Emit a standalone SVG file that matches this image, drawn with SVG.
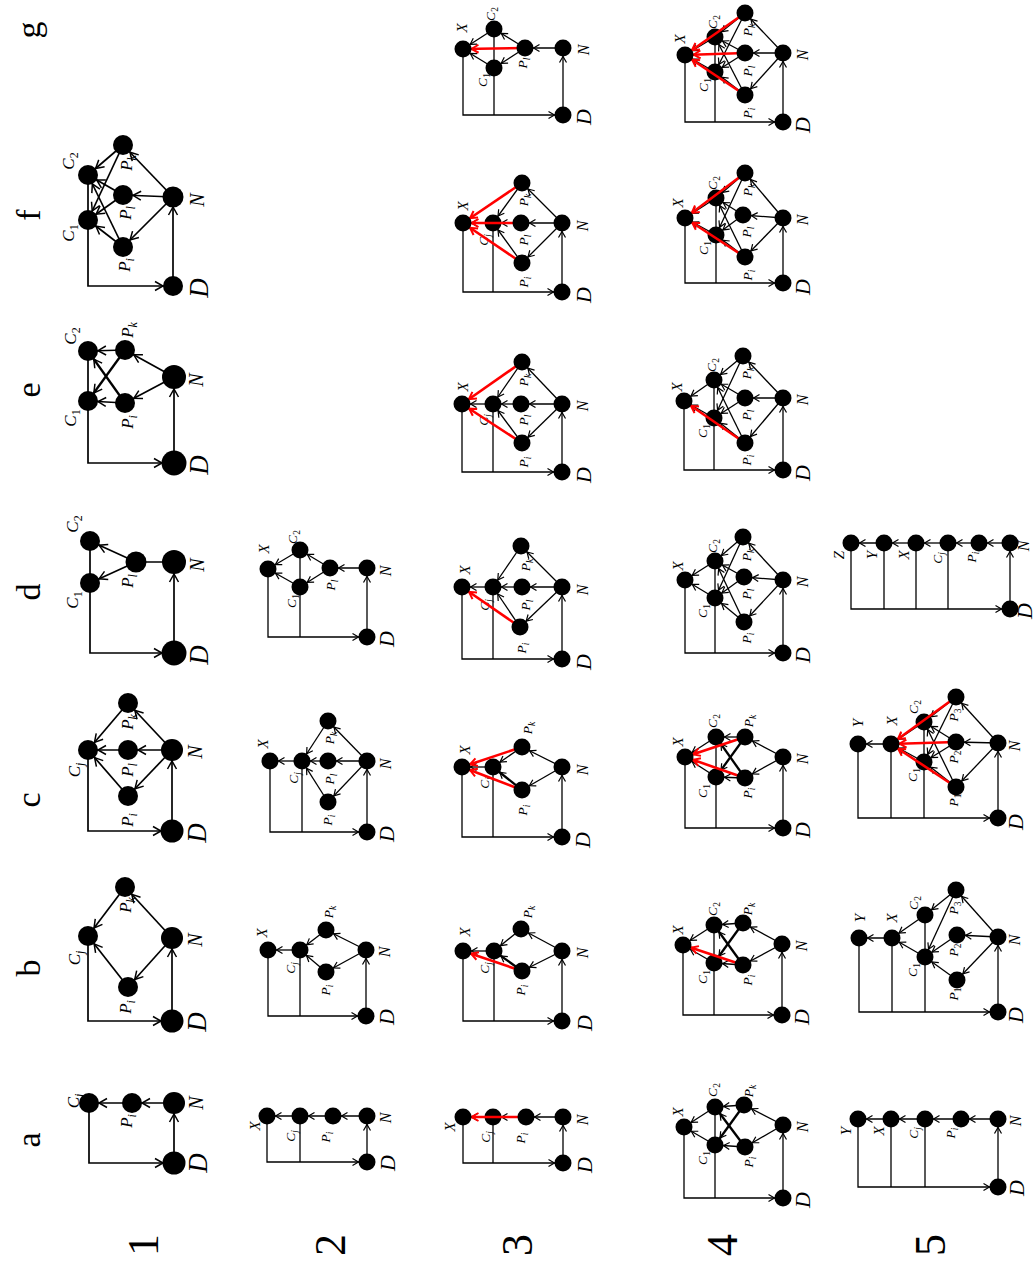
<svg xmlns="http://www.w3.org/2000/svg" width="1036" height="1262" viewBox="0 0 1036 1262">
<style>
.e{fill:none;stroke:#000;stroke-width:1.3}
.e1{fill:none;stroke:#000;stroke-width:1.7}
.th{stroke-width:2.3}
.r{fill:none;stroke:#f00;stroke-width:2.6;marker-end:url(#mr)}
.a8{marker-end:url(#m8)}
.a10{marker-end:url(#m10)}
.a11{marker-end:url(#m11)}
.a12{marker-end:url(#m12)}
circle{fill:#000}
text{font-family:"Liberation Serif","Times New Roman",serif;font-style:italic;text-anchor:middle;fill:#000}
.t1{font-size:17px}.n1{font-size:20px}.d1{font-size:27px}
.tx{font-size:15px}.tc{font-size:13.5px}.tn{font-size:16px}.td{font-size:22px}
.s{font-size:70%}.u{font-size:70%;font-style:normal}
.big{font-style:normal;font-size:34px}.dig{font-style:normal;font-size:44px}
</style>
<defs>
<marker id="m8" markerUnits="userSpaceOnUse" orient="auto" refX="8.5" refY="0" overflow="visible"><path d="M-6,-3.5L0,0L-6,3.5" fill="none" stroke="#000" stroke-width="1.2"/></marker>
<marker id="m10" markerUnits="userSpaceOnUse" orient="auto" refX="10" refY="0" overflow="visible"><path d="M-8,-4.5L0,0L-8,4.5" fill="none" stroke="#000" stroke-width="1.5"/></marker>
<marker id="m11" markerUnits="userSpaceOnUse" orient="auto" refX="11" refY="0" overflow="visible"><path d="M-8,-4.5L0,0L-8,4.5" fill="none" stroke="#000" stroke-width="1.5"/></marker>
<marker id="m12" markerUnits="userSpaceOnUse" orient="auto" refX="12" refY="0" overflow="visible"><path d="M-8,-4.5L0,0L-8,4.5" fill="none" stroke="#000" stroke-width="1.5"/></marker>
<marker id="mr" markerUnits="userSpaceOnUse" orient="auto" refX="8.5" refY="0" overflow="visible"><path d="M-7,-4L0,0L-7,4" fill="none" stroke="#f00" stroke-width="2"/></marker>
</defs>

<g id="connectors">
<!-- 1a -->
<line x1="174" y1="1163" x2="174" y2="1103" class="e1 a11"/>
<line x1="174" y1="1103" x2="132" y2="1103" class="e1 a10"/>
<line x1="132" y1="1103" x2="89" y2="1103" class="e1 a10"/>
<path d="M89,1103V1163H174" class="e1 a11"/>
<!-- 1b -->
<line x1="172" y1="1021" x2="172" y2="938" class="e1 a11"/>
<line x1="172" y1="938" x2="128" y2="987" class="e1 a10"/>
<line x1="172" y1="938" x2="125" y2="887" class="e1 a10"/>
<line x1="128" y1="987" x2="88" y2="936" class="e1 a10"/>
<line x1="125" y1="887" x2="88" y2="936" class="e1 a10"/>
<path d="M88,936V1021H172" class="e1 a11"/>
<!-- 1c -->
<line x1="172" y1="831" x2="172" y2="750" class="e1 a11"/>
<line x1="172" y1="750" x2="128" y2="796" class="e1 a10"/>
<line x1="172" y1="750" x2="128" y2="750" class="e1 a10"/>
<line x1="172" y1="750" x2="128" y2="703" class="e1 a10"/>
<line x1="128" y1="796" x2="88" y2="750" class="e1 a10"/>
<line x1="128" y1="750" x2="88" y2="750" class="e1 a10"/>
<line x1="128" y1="703" x2="88" y2="750" class="e1 a10"/>
<path d="M88,750V831H172" class="e1 a11"/>
<!-- 1d -->
<line x1="174" y1="653" x2="174" y2="562" class="e1 a12"/>
<line x1="136" y1="562" x2="174" y2="562" class="e1"/>
<line x1="136" y1="562" x2="90" y2="583" class="e1 a10"/>
<line x1="136" y1="562" x2="90" y2="541" class="e1 a10"/>
<path d="M90,541V653H174" class="e1 a12"/>
<!-- 1e -->
<line x1="174" y1="463" x2="174" y2="377" class="e1 a12"/>
<line x1="174" y1="377" x2="125" y2="403" class="e1 a10"/>
<line x1="174" y1="377" x2="125" y2="350" class="e1 a10"/>
<line x1="125" y1="403" x2="88" y2="401" class="e1 a10"/>
<line x1="125" y1="350" x2="88" y2="351" class="e1 a10"/>
<line x1="125" y1="403" x2="88" y2="351" class="e1 th a10"/>
<line x1="125" y1="350" x2="88" y2="401" class="e1 th a10"/>
<path d="M88,351V463H174" class="e1 a12"/>
<!-- 1f -->
<line x1="173" y1="286" x2="173" y2="197" class="e1 a10"/>
<line x1="173" y1="197" x2="123" y2="247" class="e1 a10"/>
<line x1="173" y1="197" x2="123" y2="195" class="e1 a10"/>
<line x1="173" y1="197" x2="123" y2="145" class="e1 a10"/>
<line x1="123" y1="247" x2="88" y2="220" class="e1 a10"/>
<line x1="123" y1="247" x2="88" y2="175" class="e1 a10"/>
<line x1="123" y1="195" x2="88" y2="220" class="e1 a10"/>
<line x1="123" y1="195" x2="88" y2="175" class="e1 a10"/>
<line x1="123" y1="145" x2="88" y2="220" class="e1 a10"/>
<line x1="123" y1="145" x2="88" y2="175" class="e1 a10"/>
<path d="M88,175V286H173" class="e1 a10"/>
<!-- 2a -->
<line x1="367" y1="1162" x2="367" y2="1116" class="e a8"/>
<line x1="367" y1="1116" x2="333" y2="1116" class="e a8"/>
<line x1="333" y1="1116" x2="300" y2="1116" class="e a8"/>
<line x1="300" y1="1116" x2="267" y2="1116" class="e a8"/>
<path d="M267,1116V1162H367" class="e a8"/>
<path d="M300,1116V1162" class="e"/>
<!-- 2b -->
<line x1="366" y1="1016" x2="366" y2="950" class="e a8"/>
<line x1="366" y1="950" x2="326" y2="972" class="e a8"/>
<line x1="366" y1="950" x2="326" y2="930" class="e a8"/>
<line x1="326" y1="972" x2="300" y2="950" class="e a8"/>
<line x1="326" y1="930" x2="300" y2="950" class="e a8"/>
<line x1="300" y1="950" x2="268" y2="950" class="e a8"/>
<path d="M268,950V1016H366" class="e a8"/>
<path d="M300,950V1016" class="e"/>
<!-- 2c -->
<line x1="367" y1="832" x2="367" y2="761" class="e a8"/>
<line x1="367" y1="761" x2="328" y2="802" class="e a8"/>
<line x1="367" y1="761" x2="328" y2="761" class="e a8"/>
<line x1="367" y1="761" x2="328" y2="721" class="e a8"/>
<line x1="328" y1="802" x2="302" y2="761" class="e a8"/>
<line x1="328" y1="761" x2="302" y2="761" class="e a8"/>
<line x1="328" y1="721" x2="302" y2="761" class="e a8"/>
<line x1="302" y1="761" x2="270" y2="761" class="e a8"/>
<path d="M270,761V832H367" class="e a8"/>
<path d="M302,761V832" class="e"/>
<!-- 2d -->
<line x1="367" y1="637" x2="367" y2="568" class="e a8"/>
<line x1="367" y1="568" x2="330" y2="568" class="e a8"/>
<line x1="330" y1="568" x2="300" y2="587" class="e a8"/>
<line x1="330" y1="568" x2="300" y2="550" class="e a8"/>
<line x1="300" y1="587" x2="268" y2="569" class="e a8"/>
<line x1="300" y1="550" x2="268" y2="569" class="e a8"/>
<path d="M268,569V637H367" class="e a8"/>
<path d="M300,550V637" class="e"/>
<!-- 3a -->
<line x1="563" y1="1163" x2="563" y2="1117" class="e a8"/>
<line x1="563" y1="1117" x2="526" y2="1117" class="e a8"/>
<line x1="526" y1="1117" x2="493" y2="1117" class="e a8"/>
<line x1="493" y1="1117" x2="463" y2="1117" class="e a8"/>
<path d="M463,1117V1163H563" class="e a8"/>
<path d="M493,1117V1163" class="e"/>
<!-- 3b -->
<line x1="562" y1="1021" x2="562" y2="951" class="e a8"/>
<line x1="562" y1="951" x2="522" y2="971" class="e a8"/>
<line x1="562" y1="951" x2="521" y2="929" class="e a8"/>
<line x1="522" y1="971" x2="494" y2="951" class="e th a8"/>
<line x1="521" y1="929" x2="494" y2="951" class="e a8"/>
<line x1="494" y1="951" x2="463" y2="951" class="e a8"/>
<path d="M463,951V1021H562" class="e a8"/>
<path d="M494,951V1021" class="e"/>
<!-- 3c -->
<line x1="562" y1="837" x2="562" y2="767" class="e a8"/>
<line x1="562" y1="767" x2="522" y2="790" class="e a8"/>
<line x1="562" y1="767" x2="522" y2="747" class="e a8"/>
<line x1="522" y1="790" x2="493" y2="767" class="e th a8"/>
<line x1="522" y1="747" x2="493" y2="767" class="e a8"/>
<line x1="493" y1="767" x2="462" y2="767" class="e a8"/>
<path d="M462,767V837H562" class="e a8"/>
<path d="M493,767V837" class="e"/>
<!-- 3d -->
<line x1="562" y1="659" x2="562" y2="587" class="e a8"/>
<line x1="562" y1="587" x2="520" y2="627" class="e a8"/>
<line x1="562" y1="587" x2="522" y2="587" class="e a8"/>
<line x1="562" y1="587" x2="521" y2="546" class="e a8"/>
<line x1="520" y1="627" x2="493" y2="587" class="e a8"/>
<line x1="522" y1="587" x2="493" y2="587" class="e a8"/>
<line x1="521" y1="546" x2="493" y2="587" class="e a8"/>
<line x1="493" y1="587" x2="462" y2="587" class="e a8"/>
<path d="M462,587V659H562" class="e a8"/>
<path d="M493,587V659" class="e"/>
<!-- 3e -->
<line x1="562" y1="472" x2="562" y2="404" class="e a8"/>
<line x1="562" y1="404" x2="522" y2="443" class="e a8"/>
<line x1="562" y1="404" x2="521" y2="404" class="e a8"/>
<line x1="562" y1="404" x2="522" y2="362" class="e a8"/>
<line x1="522" y1="443" x2="493" y2="404" class="e a8"/>
<line x1="521" y1="404" x2="493" y2="404" class="e a8"/>
<line x1="522" y1="362" x2="493" y2="404" class="e a8"/>
<line x1="493" y1="404" x2="462" y2="404" class="e a8"/>
<path d="M462,404V472H562" class="e a8"/>
<path d="M493,404V472" class="e"/>
<!-- 3f -->
<line x1="562" y1="292" x2="562" y2="223" class="e a8"/>
<line x1="562" y1="223" x2="522" y2="263" class="e a8"/>
<line x1="562" y1="223" x2="521" y2="223" class="e a8"/>
<line x1="562" y1="223" x2="522" y2="183" class="e a8"/>
<line x1="522" y1="263" x2="493" y2="223" class="e a8"/>
<line x1="521" y1="223" x2="493" y2="223" class="e a8"/>
<line x1="522" y1="183" x2="493" y2="223" class="e a8"/>
<line x1="493" y1="223" x2="463" y2="223" class="e a8"/>
<path d="M463,223V292H562" class="e a8"/>
<path d="M493,223V292" class="e"/>
<!-- 3g -->
<line x1="563" y1="115" x2="563" y2="48" class="e a8"/>
<line x1="563" y1="48" x2="525" y2="48" class="e a8"/>
<line x1="525" y1="48" x2="494" y2="68" class="e a8"/>
<line x1="525" y1="48" x2="494" y2="29" class="e a8"/>
<line x1="494" y1="68" x2="463" y2="49" class="e a8"/>
<line x1="494" y1="29" x2="463" y2="49" class="e a8"/>
<path d="M463,49V115H563" class="e a8"/>
<path d="M494,29V115" class="e"/>
<!-- 4a -->
<line x1="783" y1="1198" x2="783" y2="1125" class="e a8"/>
<line x1="783" y1="1125" x2="745" y2="1147" class="e a8"/>
<line x1="783" y1="1125" x2="744" y2="1105" class="e a8"/>
<line x1="745" y1="1147" x2="715" y2="1145" class="e a8"/>
<line x1="744" y1="1105" x2="715" y2="1107" class="e a8"/>
<line x1="745" y1="1147" x2="715" y2="1107" class="e th a8"/>
<line x1="744" y1="1105" x2="715" y2="1145" class="e th a8"/>
<line x1="715" y1="1145" x2="684" y2="1127" class="e a8"/>
<line x1="715" y1="1107" x2="684" y2="1127" class="e a8"/>
<path d="M684,1127V1198H783" class="e a8"/>
<path d="M715,1107V1198" class="e"/>
<!-- 4b -->
<line x1="782" y1="1015" x2="782" y2="944" class="e a8"/>
<line x1="782" y1="944" x2="743" y2="965" class="e a8"/>
<line x1="782" y1="944" x2="743" y2="923" class="e a8"/>
<line x1="743" y1="965" x2="714" y2="963" class="e a8"/>
<line x1="743" y1="923" x2="714" y2="925" class="e a8"/>
<line x1="743" y1="965" x2="714" y2="925" class="e th a8"/>
<line x1="743" y1="923" x2="714" y2="963" class="e th a8"/>
<line x1="714" y1="963" x2="683" y2="945" class="e a8"/>
<line x1="714" y1="925" x2="683" y2="945" class="e a8"/>
<path d="M683,945V1015H782" class="e a8"/>
<path d="M714,925V1015" class="e"/>
<!-- 4c -->
<line x1="783" y1="828" x2="783" y2="757" class="e a8"/>
<line x1="783" y1="757" x2="745" y2="778" class="e a8"/>
<line x1="783" y1="757" x2="745" y2="737" class="e a8"/>
<line x1="745" y1="778" x2="716" y2="777" class="e a8"/>
<line x1="745" y1="737" x2="716" y2="737" class="e a8"/>
<line x1="745" y1="778" x2="716" y2="737" class="e th a8"/>
<line x1="745" y1="737" x2="716" y2="777" class="e th a8"/>
<line x1="716" y1="777" x2="685" y2="757" class="e a8"/>
<line x1="716" y1="737" x2="685" y2="757" class="e a8"/>
<path d="M685,757V828H783" class="e a8"/>
<path d="M716,737V828" class="e"/>
<!-- 4d -->
<line x1="783" y1="653" x2="783" y2="580" class="e a8"/>
<line x1="783" y1="580" x2="744" y2="622" class="e a8"/>
<line x1="783" y1="580" x2="744" y2="577" class="e a8"/>
<line x1="783" y1="580" x2="743" y2="537" class="e a8"/>
<line x1="744" y1="622" x2="715" y2="598" class="e a8"/>
<line x1="744" y1="622" x2="715" y2="561" class="e a8"/>
<line x1="744" y1="577" x2="715" y2="598" class="e a8"/>
<line x1="744" y1="577" x2="715" y2="561" class="e a8"/>
<line x1="743" y1="537" x2="715" y2="598" class="e a8"/>
<line x1="743" y1="537" x2="715" y2="561" class="e a8"/>
<line x1="715" y1="598" x2="685" y2="580" class="e a8"/>
<line x1="715" y1="561" x2="685" y2="580" class="e a8"/>
<path d="M685,580V653H783" class="e a8"/>
<path d="M715,561V653" class="e"/>
<!-- 4e -->
<line x1="783" y1="470" x2="783" y2="398" class="e a8"/>
<line x1="783" y1="398" x2="745" y2="443" class="e a8"/>
<line x1="783" y1="398" x2="745" y2="398" class="e a8"/>
<line x1="783" y1="398" x2="743" y2="356" class="e a8"/>
<line x1="745" y1="443" x2="714" y2="418" class="e a8"/>
<line x1="745" y1="443" x2="714" y2="380" class="e a8"/>
<line x1="745" y1="398" x2="714" y2="418" class="e a8"/>
<line x1="745" y1="398" x2="714" y2="380" class="e a8"/>
<line x1="743" y1="356" x2="714" y2="418" class="e a8"/>
<line x1="743" y1="356" x2="714" y2="380" class="e a8"/>
<line x1="714" y1="418" x2="684" y2="401" class="e a8"/>
<line x1="714" y1="380" x2="684" y2="401" class="e a8"/>
<path d="M684,401V470H783" class="e a8"/>
<path d="M714,380V470" class="e"/>
<!-- 4f -->
<line x1="783" y1="283" x2="783" y2="218" class="e a8"/>
<line x1="783" y1="218" x2="745" y2="257" class="e a8"/>
<line x1="783" y1="218" x2="743" y2="215" class="e a8"/>
<line x1="783" y1="218" x2="745" y2="173" class="e a8"/>
<line x1="745" y1="257" x2="716" y2="235" class="e a8"/>
<line x1="745" y1="257" x2="716" y2="198" class="e a8"/>
<line x1="743" y1="215" x2="716" y2="235" class="e a8"/>
<line x1="743" y1="215" x2="716" y2="198" class="e a8"/>
<line x1="745" y1="173" x2="716" y2="235" class="e a8"/>
<line x1="745" y1="173" x2="716" y2="198" class="e a8"/>
<line x1="716" y1="235" x2="685" y2="218" class="e a8"/>
<line x1="716" y1="198" x2="685" y2="218" class="e a8"/>
<path d="M685,218V283H783" class="e a8"/>
<path d="M716,198V283" class="e"/>
<!-- 4g -->
<line x1="783" y1="122" x2="783" y2="53" class="e a8"/>
<line x1="783" y1="53" x2="745" y2="95" class="e a8"/>
<line x1="783" y1="53" x2="745" y2="53" class="e a8"/>
<line x1="783" y1="53" x2="745" y2="13" class="e a8"/>
<line x1="745" y1="95" x2="715" y2="72" class="e a8"/>
<line x1="745" y1="95" x2="715" y2="37" class="e a8"/>
<line x1="745" y1="53" x2="715" y2="72" class="e a8"/>
<line x1="745" y1="53" x2="715" y2="37" class="e a8"/>
<line x1="745" y1="13" x2="715" y2="72" class="e a8"/>
<line x1="745" y1="13" x2="715" y2="37" class="e a8"/>
<line x1="715" y1="72" x2="685" y2="55" class="e a8"/>
<line x1="715" y1="37" x2="685" y2="55" class="e a8"/>
<path d="M685,55V122H783" class="e a8"/>
<path d="M715,37V122" class="e"/>
<!-- 5a -->
<line x1="998" y1="1187" x2="998" y2="1119" class="e a8"/>
<line x1="998" y1="1119" x2="961" y2="1119" class="e a8"/>
<line x1="961" y1="1119" x2="925" y2="1119" class="e a8"/>
<line x1="925" y1="1119" x2="891" y2="1119" class="e a8"/>
<line x1="891" y1="1119" x2="858" y2="1119" class="e a8"/>
<path d="M858,1119V1187H998" class="e a8"/>
<path d="M891,1119V1187" class="e"/>
<path d="M925,1119V1187" class="e"/>
<!-- 5b -->
<line x1="998" y1="1012" x2="998" y2="937" class="e a8"/>
<line x1="998" y1="937" x2="957" y2="980" class="e a8"/>
<line x1="998" y1="937" x2="957" y2="935" class="e a8"/>
<line x1="998" y1="937" x2="956" y2="890" class="e a8"/>
<line x1="956" y1="890" x2="925" y2="915" class="e a8"/>
<line x1="956" y1="890" x2="925" y2="957" class="e a8"/>
<line x1="957" y1="935" x2="925" y2="957" class="e a8"/>
<line x1="957" y1="980" x2="925" y2="957" class="e a8"/>
<line x1="925" y1="957" x2="892" y2="938" class="e a8"/>
<line x1="925" y1="915" x2="892" y2="938" class="e a8"/>
<line x1="892" y1="938" x2="859" y2="938" class="e a8"/>
<path d="M859,938V1012H998" class="e a8"/>
<path d="M892,938V1012" class="e"/>
<path d="M925,915V1012" class="e"/>
<!-- 5c -->
<line x1="998" y1="818" x2="998" y2="743" class="e a8"/>
<line x1="998" y1="743" x2="956" y2="787" class="e a8"/>
<line x1="998" y1="743" x2="956" y2="742" class="e a8"/>
<line x1="998" y1="743" x2="956" y2="697" class="e a8"/>
<line x1="956" y1="787" x2="924" y2="762" class="e a8"/>
<line x1="956" y1="787" x2="924" y2="722" class="e a8"/>
<line x1="956" y1="742" x2="924" y2="762" class="e a8"/>
<line x1="956" y1="742" x2="924" y2="722" class="e a8"/>
<line x1="956" y1="697" x2="924" y2="762" class="e a8"/>
<line x1="956" y1="697" x2="924" y2="722" class="e a8"/>
<line x1="924" y1="762" x2="891" y2="744" class="e a8"/>
<line x1="924" y1="722" x2="891" y2="744" class="e a8"/>
<line x1="891" y1="744" x2="858" y2="744" class="e a8"/>
<path d="M858,744V818H998" class="e a8"/>
<path d="M891,744V818" class="e"/>
<path d="M924,722V818" class="e"/>
<!-- 5d -->
<line x1="1010" y1="609" x2="1010" y2="543" class="e a8"/>
<line x1="1010" y1="543" x2="979" y2="543" class="e a8"/>
<line x1="979" y1="543" x2="948" y2="543" class="e a8"/>
<line x1="948" y1="543" x2="916" y2="543" class="e a8"/>
<line x1="916" y1="543" x2="884" y2="543" class="e a8"/>
<line x1="884" y1="543" x2="851" y2="543" class="e a8"/>
<path d="M851,543V609H1010" class="e a8"/>
<path d="M884,543V609" class="e"/>
<path d="M916,543V609" class="e"/>
<path d="M948,543V609" class="e"/>
</g>

<g id="nodes-c">
<g id="n1a-Cj"><circle cx="89" cy="1103" r="10"/><text class="t1" x="78.5" y="1101" transform="rotate(-90 78.5 1101)">C<tspan class="s" dy="4">j</tspan></text></g>
<g id="n1b-Cj"><circle cx="88" cy="936" r="10"/><text class="t1" x="79.5" y="958" transform="rotate(-90 79.5 958)">C<tspan class="s" dy="4">j</tspan></text></g>
<g id="n1c-Cj"><circle cx="88" cy="750" r="10"/><text class="t1" x="79.5" y="770" transform="rotate(-90 79.5 770)">C<tspan class="s" dy="4">j</tspan></text></g>
<g id="n1d-C1"><circle cx="90" cy="583" r="10"/><text class="t1" x="77.5" y="600" transform="rotate(-90 77.5 600)">C<tspan class="u" dy="4">1</tspan></text></g>
<g id="n1d-C2"><circle cx="90" cy="541" r="10"/><text class="t1" x="77.5" y="524" transform="rotate(-90 77.5 524)">C<tspan class="u" dy="4">2</tspan></text></g>
<g id="n1e-C1"><circle cx="88" cy="401" r="10"/><text class="t1" x="75.5" y="418" transform="rotate(-90 75.5 418)">C<tspan class="u" dy="4">1</tspan></text></g>
<g id="n1e-C2"><circle cx="88" cy="351" r="10"/><text class="t1" x="75.5" y="336" transform="rotate(-90 75.5 336)">C<tspan class="u" dy="4">2</tspan></text></g>
<g id="n1f-C1"><circle cx="88" cy="220" r="10"/><text class="t1" x="73.5" y="233" transform="rotate(-90 73.5 233)">C<tspan class="u" dy="4">1</tspan></text></g>
<g id="n1f-C2"><circle cx="88" cy="175" r="10"/><text class="t1" x="73.5" y="161" transform="rotate(-90 73.5 161)">C<tspan class="u" dy="4">2</tspan></text></g>
<g id="n2a-Cj"><circle cx="300" cy="1116" r="8.5"/><text class="tc" x="294.5" y="1136" transform="rotate(-90 294.5 1136)">C<tspan class="s" dy="3">j</tspan></text></g>
<g id="n2b-Cj"><circle cx="300" cy="950" r="8.5"/><text class="tc" x="294.5" y="968" transform="rotate(-90 294.5 968)">C<tspan class="s" dy="3">j</tspan></text></g>
<g id="n2c-Cj"><circle cx="302" cy="761" r="8.5"/><text class="tc" x="297.5" y="778" transform="rotate(-90 297.5 778)">C<tspan class="s" dy="3">j</tspan></text></g>
<g id="n2d-C1"><circle cx="300" cy="587" r="8.5"/><text class="tc" x="295.5" y="601" transform="rotate(-90 295.5 601)">C<tspan class="u" dy="3">1</tspan></text></g>
<g id="n2d-C2"><circle cx="300" cy="550" r="8.5"/><text class="tc" x="296.5" y="537" transform="rotate(-90 296.5 537)">C<tspan class="u" dy="3">2</tspan></text></g>
<g id="n3a-Cj"><circle cx="493" cy="1117" r="8.5"/><text class="tc" x="489.5" y="1137" transform="rotate(-90 489.5 1137)">C<tspan class="s" dy="3">j</tspan></text></g>
<g id="n3b-Cj"><circle cx="494" cy="951" r="8.5"/><text class="tc" x="488.5" y="968" transform="rotate(-90 488.5 968)">C<tspan class="s" dy="3">j</tspan></text></g>
<g id="n3c-Cj"><circle cx="493" cy="767" r="8.5"/><text class="tc" x="488.5" y="783" transform="rotate(-90 488.5 783)">C<tspan class="s" dy="3">j</tspan></text></g>
<g id="n3d-Cj"><circle cx="493" cy="587" r="8.5"/><text class="tc" x="488.5" y="605" transform="rotate(-90 488.5 605)">C<tspan class="s" dy="3">j</tspan></text></g>
<g id="n3e-Cj"><circle cx="493" cy="404" r="8.5"/><text class="tc" x="487.5" y="420" transform="rotate(-90 487.5 420)">C<tspan class="s" dy="3">j</tspan></text></g>
<g id="n3f-Cj"><circle cx="493" cy="223" r="8.5"/><text class="tc" x="487.5" y="240" transform="rotate(-90 487.5 240)">C<tspan class="s" dy="3">j</tspan></text></g>
<g id="n3g-C1"><circle cx="494" cy="68" r="8.5"/><text class="tc" x="486.5" y="80" transform="rotate(-90 486.5 80)">C<tspan class="u" dy="3">1</tspan></text></g>
<g id="n3g-C2"><circle cx="494" cy="29" r="8.5"/><text class="tc" x="494.5" y="14" transform="rotate(-90 494.5 14)">C<tspan class="u" dy="3">2</tspan></text></g>
<g id="n4a-C1"><circle cx="715" cy="1145" r="8.5"/><text class="tc" x="706.5" y="1158" transform="rotate(-90 706.5 1158)">C<tspan class="u" dy="3">1</tspan></text></g>
<g id="n4a-C2"><circle cx="715" cy="1107" r="8.5"/><text class="tc" x="716.5" y="1090" transform="rotate(-90 716.5 1090)">C<tspan class="u" dy="3">2</tspan></text></g>
<g id="n4b-C1"><circle cx="714" cy="963" r="8.5"/><text class="tc" x="706.5" y="977" transform="rotate(-90 706.5 977)">C<tspan class="u" dy="3">1</tspan></text></g>
<g id="n4b-C2"><circle cx="714" cy="925" r="8.5"/><text class="tc" x="716.5" y="909" transform="rotate(-90 716.5 909)">C<tspan class="u" dy="3">2</tspan></text></g>
<g id="n4c-C1"><circle cx="716" cy="777" r="8.5"/><text class="tc" x="706.5" y="791" transform="rotate(-90 706.5 791)">C<tspan class="u" dy="3">1</tspan></text></g>
<g id="n4c-C2"><circle cx="716" cy="737" r="8.5"/><text class="tc" x="716.5" y="721" transform="rotate(-90 716.5 721)">C<tspan class="u" dy="3">2</tspan></text></g>
<g id="n4d-C1"><circle cx="715" cy="598" r="8.5"/><text class="tc" x="706.5" y="611" transform="rotate(-90 706.5 611)">C<tspan class="u" dy="3">1</tspan></text></g>
<g id="n4d-C2"><circle cx="715" cy="561" r="8.5"/><text class="tc" x="716.5" y="546" transform="rotate(-90 716.5 546)">C<tspan class="u" dy="3">2</tspan></text></g>
<g id="n4e-C1"><circle cx="714" cy="418" r="8.5"/><text class="tc" x="706.5" y="431" transform="rotate(-90 706.5 431)">C<tspan class="u" dy="3">1</tspan></text></g>
<g id="n4e-C2"><circle cx="714" cy="380" r="8.5"/><text class="tc" x="715.5" y="365" transform="rotate(-90 715.5 365)">C<tspan class="u" dy="3">2</tspan></text></g>
<g id="n4f-C1"><circle cx="716" cy="235" r="8.5"/><text class="tc" x="707.5" y="248" transform="rotate(-90 707.5 248)">C<tspan class="u" dy="3">1</tspan></text></g>
<g id="n4f-C2"><circle cx="716" cy="198" r="8.5"/><text class="tc" x="716.5" y="183" transform="rotate(-90 716.5 183)">C<tspan class="u" dy="3">2</tspan></text></g>
<g id="n4g-C1"><circle cx="715" cy="72" r="8.5"/><text class="tc" x="707.5" y="85" transform="rotate(-90 707.5 85)">C<tspan class="u" dy="3">1</tspan></text></g>
<g id="n4g-C2"><circle cx="715" cy="37" r="8.5"/><text class="tc" x="716.5" y="22" transform="rotate(-90 716.5 22)">C<tspan class="u" dy="3">2</tspan></text></g>
<g id="n5a-Cj"><circle cx="925" cy="1119" r="8.5"/><text class="tc" x="917.5" y="1133" transform="rotate(-90 917.5 1133)">C<tspan class="s" dy="3">j</tspan></text></g>
<g id="n5b-C1"><circle cx="925" cy="957" r="8.5"/><text class="tc" x="916.5" y="970" transform="rotate(-90 916.5 970)">C<tspan class="u" dy="3">1</tspan></text></g>
<g id="n5b-C2"><circle cx="925" cy="915" r="8.5"/><text class="tc" x="917.5" y="903" transform="rotate(-90 917.5 903)">C<tspan class="u" dy="3">2</tspan></text></g>
<g id="n5c-C1"><circle cx="924" cy="762" r="8.5"/><text class="tc" x="916.5" y="775" transform="rotate(-90 916.5 775)">C<tspan class="u" dy="3">1</tspan></text></g>
<g id="n5c-C2"><circle cx="924" cy="722" r="8.5"/><text class="tc" x="917.5" y="707" transform="rotate(-90 917.5 707)">C<tspan class="u" dy="3">2</tspan></text></g>
<g id="n5d-Cj"><circle cx="948" cy="543" r="8.5"/><text class="tc" x="941.5" y="558" transform="rotate(-90 941.5 558)">C<tspan class="s" dy="3">j</tspan></text></g>
</g>

<g id="connectors-red">
<line x1="526" y1="1117" x2="463" y2="1117" class="r"/>
<line x1="522" y1="971" x2="463" y2="951" class="r"/>
<line x1="522" y1="790" x2="462" y2="767" class="r"/>
<line x1="522" y1="747" x2="462" y2="767" class="r"/>
<line x1="520" y1="627" x2="462" y2="587" class="r"/>
<line x1="522" y1="443" x2="462" y2="404" class="r"/>
<line x1="522" y1="362" x2="462" y2="404" class="r"/>
<line x1="522" y1="263" x2="463" y2="223" class="r"/>
<line x1="521" y1="223" x2="463" y2="223" class="r"/>
<line x1="522" y1="183" x2="463" y2="223" class="r"/>
<line x1="525" y1="48" x2="463" y2="49" class="r"/>
<line x1="743" y1="965" x2="683" y2="945" class="r"/>
<line x1="745" y1="778" x2="685" y2="757" class="r"/>
<line x1="745" y1="737" x2="685" y2="757" class="r"/>
<line x1="745" y1="443" x2="684" y2="401" class="r"/>
<line x1="745" y1="173" x2="685" y2="218" class="r"/>
<line x1="745" y1="257" x2="685" y2="218" class="r"/>
<line x1="745" y1="13" x2="685" y2="55" class="r"/>
<line x1="745" y1="53" x2="685" y2="55" class="r"/>
<line x1="745" y1="95" x2="685" y2="55" class="r"/>
<line x1="956" y1="697" x2="891" y2="744" class="r"/>
<line x1="956" y1="742" x2="891" y2="744" class="r"/>
<line x1="956" y1="787" x2="891" y2="744" class="r"/>
</g>

<g id="nodes">
<!-- row 1 -->
<g id="n1a-Pi"><circle cx="132" cy="1103" r="10"/><text class="t1" x="131.5" y="1121" transform="rotate(-90 131.5 1121)">P<tspan class="s" dy="4">i</tspan></text></g>
<g id="n1a-N"><circle cx="174" cy="1103" r="11"/><text class="n1" x="202.5" y="1103" transform="rotate(-90 202.5 1103)">N</text></g>
<g id="n1a-D"><circle cx="174" cy="1163" r="11.5"/><text class="d1" x="207" y="1163" transform="rotate(-90 207 1163)">D</text></g>
<g id="n1b-Pi"><circle cx="128" cy="987" r="10"/><text class="t1" x="130.5" y="1007" transform="rotate(-90 130.5 1007)">P<tspan class="s" dy="4">i</tspan></text></g>
<g id="n1b-Pk"><circle cx="125" cy="887" r="10"/><text class="t1" x="130.5" y="905" transform="rotate(-90 130.5 905)">P<tspan class="s" dy="4">k</tspan></text></g>
<g id="n1b-N"><circle cx="172" cy="938" r="11"/><text class="n1" x="201.5" y="940" transform="rotate(-90 201.5 940)">N</text></g>
<g id="n1b-D"><circle cx="172" cy="1021" r="11.5"/><text class="d1" x="206" y="1022" transform="rotate(-90 206 1022)">D</text></g>
<g id="n1c-Pi"><circle cx="128" cy="796" r="10"/><text class="t1" x="132.5" y="820" transform="rotate(-90 132.5 820)">P<tspan class="s" dy="4">i</tspan></text></g>
<g id="n1c-Pl"><circle cx="128" cy="750" r="10"/><text class="t1" x="132.5" y="770" transform="rotate(-90 132.5 770)">P<tspan class="s" dy="4">l</tspan></text></g>
<g id="n1c-Pk"><circle cx="128" cy="703" r="10"/><text class="t1" x="132.5" y="722" transform="rotate(-90 132.5 722)">P<tspan class="s" dy="4">k</tspan></text></g>
<g id="n1c-N"><circle cx="172" cy="750" r="11"/><text class="n1" x="201.5" y="752" transform="rotate(-90 201.5 752)">N</text></g>
<g id="n1c-D"><circle cx="172" cy="831" r="11.5"/><text class="d1" x="206" y="833" transform="rotate(-90 206 833)">D</text></g>
<g id="n1d-Pl"><circle cx="136" cy="562" r="10.5"/><text class="t1" x="132.5" y="581" transform="rotate(-90 132.5 581)">P<tspan class="s" dy="4">l</tspan></text></g>
<g id="n1d-N"><circle cx="174" cy="562" r="12"/><text class="n1" x="203.5" y="565" transform="rotate(-90 203.5 565)">N</text></g>
<g id="n1d-D"><circle cx="174" cy="653" r="12.5"/><text class="d1" x="208" y="655" transform="rotate(-90 208 655)">D</text></g>
<g id="n1e-Pi"><circle cx="125" cy="403" r="10"/><text class="t1" x="132.5" y="422" transform="rotate(-90 132.5 422)">P<tspan class="s" dy="4">i</tspan></text></g>
<g id="n1e-Pk"><circle cx="125" cy="350" r="10"/><text class="t1" x="132.5" y="330" transform="rotate(-90 132.5 330)">P<tspan class="s" dy="4">k</tspan></text></g>
<g id="n1e-N"><circle cx="174" cy="377" r="12"/><text class="n1" x="202.5" y="380" transform="rotate(-90 202.5 380)">N</text></g>
<g id="n1e-D"><circle cx="174" cy="463" r="12.5"/><text class="d1" x="208" y="465" transform="rotate(-90 208 465)">D</text></g>
<g id="n1f-Pi"><circle cx="123" cy="247" r="10"/><text class="t1" x="129.5" y="265" transform="rotate(-90 129.5 265)">P<tspan class="s" dy="4">i</tspan></text></g>
<g id="n1f-Pl"><circle cx="123" cy="195" r="10"/><text class="t1" x="130.5" y="213" transform="rotate(-90 130.5 213)">P<tspan class="s" dy="4">l</tspan></text></g>
<g id="n1f-Pk"><circle cx="123" cy="145" r="10"/><text class="t1" x="131.5" y="163" transform="rotate(-90 131.5 163)">P<tspan class="s" dy="4">k</tspan></text></g>
<g id="n1f-N"><circle cx="173" cy="197" r="10.5"/><text class="n1" x="203.5" y="200" transform="rotate(-90 203.5 200)">N</text></g>
<g id="n1f-D"><circle cx="173" cy="286" r="10"/><text class="d1" x="208" y="288" transform="rotate(-90 208 288)">D</text></g>
<!-- row 2 -->
<g id="n2a-X"><circle cx="267" cy="1116" r="8.5"/><text class="tx" x="260" y="1126" transform="rotate(-90 260 1126)">X</text></g>
<g id="n2a-Pi"><circle cx="333" cy="1116" r="8.5"/><text class="tc" x="329.5" y="1137" transform="rotate(-90 329.5 1137)">P<tspan class="s" dy="3">i</tspan></text></g>
<g id="n2a-N"><circle cx="367" cy="1116" r="8.5"/><text class="tn" x="391.3" y="1118" transform="rotate(-90 391.3 1118)">N</text></g>
<g id="n2a-D"><circle cx="367" cy="1162" r="8.5"/><text class="td" x="395.3" y="1163" transform="rotate(-90 395.3 1163)">D</text></g>
<g id="n2b-X"><circle cx="268" cy="950" r="8.5"/><text class="tx" x="267" y="933" transform="rotate(-90 267 933)">X</text></g>
<g id="n2b-Pi"><circle cx="326" cy="972" r="8.5"/><text class="tc" x="329.5" y="990" transform="rotate(-90 329.5 990)">P<tspan class="s" dy="3">i</tspan></text></g>
<g id="n2b-Pk"><circle cx="326" cy="930" r="8.5"/><text class="tc" x="332.5" y="912" transform="rotate(-90 332.5 912)">P<tspan class="s" dy="3">k</tspan></text></g>
<g id="n2b-N"><circle cx="366" cy="950" r="8.5"/><text class="tn" x="390.3" y="952" transform="rotate(-90 390.3 952)">N</text></g>
<g id="n2b-D"><circle cx="366" cy="1016" r="8.5"/><text class="td" x="394.3" y="1017" transform="rotate(-90 394.3 1017)">D</text></g>
<g id="n2c-X"><circle cx="270" cy="761" r="8.5"/><text class="tx" x="268" y="744" transform="rotate(-90 268 744)">X</text></g>
<g id="n2c-Pi"><circle cx="328" cy="802" r="8.5"/><text class="tc" x="331.5" y="820" transform="rotate(-90 331.5 820)">P<tspan class="s" dy="3">i</tspan></text></g>
<g id="n2c-Pl"><circle cx="328" cy="761" r="8.5"/><text class="tc" x="333.5" y="779" transform="rotate(-90 333.5 779)">P<tspan class="s" dy="3">l</tspan></text></g>
<g id="n2c-Pk"><circle cx="328" cy="721" r="8.5"/><text class="tc" x="333.5" y="738" transform="rotate(-90 333.5 738)">P<tspan class="s" dy="3">k</tspan></text></g>
<g id="n2c-N"><circle cx="367" cy="761" r="8.5"/><text class="tn" x="391.3" y="764" transform="rotate(-90 391.3 764)">N</text></g>
<g id="n2c-D"><circle cx="367" cy="832" r="8.5"/><text class="td" x="394.3" y="834" transform="rotate(-90 394.3 834)">D</text></g>
<g id="n2d-X"><circle cx="268" cy="569" r="8.5"/><text class="tx" x="269" y="549" transform="rotate(-90 269 549)">X</text></g>
<g id="n2d-Pl"><circle cx="330" cy="568" r="8.5"/><text class="tc" x="334.5" y="585" transform="rotate(-90 334.5 585)">P<tspan class="s" dy="3">l</tspan></text></g>
<g id="n2d-N"><circle cx="367" cy="568" r="8.5"/><text class="tn" x="391.3" y="571" transform="rotate(-90 391.3 571)">N</text></g>
<g id="n2d-D"><circle cx="367" cy="637" r="8.5"/><text class="td" x="394.3" y="639" transform="rotate(-90 394.3 639)">D</text></g>
<!-- row 3 -->
<g id="n3a-X"><circle cx="463" cy="1117" r="8.5"/><text class="tx" x="455" y="1127" transform="rotate(-90 455 1127)">X</text></g>
<g id="n3a-Pi"><circle cx="526" cy="1117" r="8.5"/><text class="tc" x="524.5" y="1138" transform="rotate(-90 524.5 1138)">P<tspan class="s" dy="3">i</tspan></text></g>
<g id="n3a-N"><circle cx="563" cy="1117" r="8.5"/><text class="tn" x="588.3" y="1120" transform="rotate(-90 588.3 1120)">N</text></g>
<g id="n3a-D"><circle cx="563" cy="1163" r="8.5"/><text class="td" x="592.3" y="1165" transform="rotate(-90 592.3 1165)">D</text></g>
<g id="n3b-X"><circle cx="463" cy="951" r="8.5"/><text class="tx" x="470" y="932" transform="rotate(-90 470 932)">X</text></g>
<g id="n3b-Pi"><circle cx="522" cy="971" r="8.5"/><text class="tc" x="524.5" y="990" transform="rotate(-90 524.5 990)">P<tspan class="s" dy="3">i</tspan></text></g>
<g id="n3b-Pk"><circle cx="521" cy="929" r="8.5"/><text class="tc" x="531.5" y="912" transform="rotate(-90 531.5 912)">P<tspan class="s" dy="3">k</tspan></text></g>
<g id="n3b-N"><circle cx="562" cy="951" r="8.5"/><text class="tn" x="588.3" y="953" transform="rotate(-90 588.3 953)">N</text></g>
<g id="n3b-D"><circle cx="562" cy="1021" r="8.5"/><text class="td" x="592.3" y="1023" transform="rotate(-90 592.3 1023)">D</text></g>
<g id="n3c-X"><circle cx="462" cy="767" r="8.5"/><text class="tx" x="470" y="750" transform="rotate(-90 470 750)">X</text></g>
<g id="n3c-Pi"><circle cx="522" cy="790" r="8.5"/><text class="tc" x="526.5" y="810" transform="rotate(-90 526.5 810)">P<tspan class="s" dy="3">i</tspan></text></g>
<g id="n3c-Pk"><circle cx="522" cy="747" r="8.5"/><text class="tc" x="531.5" y="728" transform="rotate(-90 531.5 728)">P<tspan class="s" dy="3">k</tspan></text></g>
<g id="n3c-N"><circle cx="562" cy="767" r="8.5"/><text class="tn" x="588.3" y="770" transform="rotate(-90 588.3 770)">N</text></g>
<g id="n3c-D"><circle cx="562" cy="837" r="8.5"/><text class="td" x="590.3" y="840" transform="rotate(-90 590.3 840)">D</text></g>
<g id="n3d-X"><circle cx="462" cy="587" r="8.5"/><text class="tx" x="470" y="570" transform="rotate(-90 470 570)">X</text></g>
<g id="n3d-Pi"><circle cx="520" cy="627" r="8.5"/><text class="tc" x="525.5" y="648" transform="rotate(-90 525.5 648)">P<tspan class="s" dy="3">i</tspan></text></g>
<g id="n3d-Pl"><circle cx="522" cy="587" r="8.5"/><text class="tc" x="529.5" y="605" transform="rotate(-90 529.5 605)">P<tspan class="s" dy="3">l</tspan></text></g>
<g id="n3d-Pk"><circle cx="521" cy="546" r="8.5"/><text class="tc" x="529.5" y="565" transform="rotate(-90 529.5 565)">P<tspan class="s" dy="3">k</tspan></text></g>
<g id="n3d-N"><circle cx="562" cy="587" r="8.5"/><text class="tn" x="588.3" y="590" transform="rotate(-90 588.3 590)">N</text></g>
<g id="n3d-D"><circle cx="562" cy="659" r="8.5"/><text class="td" x="591.3" y="662" transform="rotate(-90 591.3 662)">D</text></g>
<g id="n3e-X"><circle cx="462" cy="404" r="8.5"/><text class="tx" x="468" y="387" transform="rotate(-90 468 387)">X</text></g>
<g id="n3e-Pi"><circle cx="522" cy="443" r="8.5"/><text class="tc" x="527.5" y="462" transform="rotate(-90 527.5 462)">P<tspan class="s" dy="3">i</tspan></text></g>
<g id="n3e-Pl"><circle cx="521" cy="404" r="8.5"/><text class="tc" x="527.5" y="420" transform="rotate(-90 527.5 420)">P<tspan class="s" dy="3">l</tspan></text></g>
<g id="n3e-Pk"><circle cx="522" cy="362" r="8.5"/><text class="tc" x="527.5" y="380" transform="rotate(-90 527.5 380)">P<tspan class="s" dy="3">k</tspan></text></g>
<g id="n3e-N"><circle cx="562" cy="404" r="8.5"/><text class="tn" x="588.3" y="406" transform="rotate(-90 588.3 406)">N</text></g>
<g id="n3e-D"><circle cx="562" cy="472" r="8.5"/><text class="td" x="591.3" y="475" transform="rotate(-90 591.3 475)">D</text></g>
<g id="n3f-X"><circle cx="463" cy="223" r="8.5"/><text class="tx" x="468" y="206" transform="rotate(-90 468 206)">X</text></g>
<g id="n3f-Pi"><circle cx="522" cy="263" r="8.5"/><text class="tc" x="527.5" y="282" transform="rotate(-90 527.5 282)">P<tspan class="s" dy="3">i</tspan></text></g>
<g id="n3f-Pl"><circle cx="521" cy="223" r="8.5"/><text class="tc" x="527.5" y="240" transform="rotate(-90 527.5 240)">P<tspan class="s" dy="3">l</tspan></text></g>
<g id="n3f-Pk"><circle cx="522" cy="183" r="8.5"/><text class="tc" x="527.5" y="200" transform="rotate(-90 527.5 200)">P<tspan class="s" dy="3">k</tspan></text></g>
<g id="n3f-N"><circle cx="562" cy="223" r="8.5"/><text class="tn" x="588.3" y="226" transform="rotate(-90 588.3 226)">N</text></g>
<g id="n3f-D"><circle cx="562" cy="292" r="8.5"/><text class="td" x="591.3" y="295" transform="rotate(-90 591.3 295)">D</text></g>
<g id="n3g-X"><circle cx="463" cy="49" r="8.5"/><text class="tx" x="467" y="28" transform="rotate(-90 467 28)">X</text></g>
<g id="n3g-Pl"><circle cx="525" cy="48" r="8.5"/><text class="tc" x="526.5" y="63" transform="rotate(-90 526.5 63)">P<tspan class="s" dy="3">l</tspan></text></g>
<g id="n3g-N"><circle cx="563" cy="48" r="8.5"/><text class="tn" x="589.3" y="50" transform="rotate(-90 589.3 50)">N</text></g>
<g id="n3g-D"><circle cx="563" cy="115" r="8.5"/><text class="td" x="591.3" y="117" transform="rotate(-90 591.3 117)">D</text></g>
<!-- row 4 -->
<g id="n4a-X"><circle cx="684" cy="1127" r="8.5"/><text class="tx" x="683" y="1112" transform="rotate(-90 683 1112)">X</text></g>
<g id="n4a-Pi"><circle cx="745" cy="1147" r="8.5"/><text class="tc" x="752.5" y="1162" transform="rotate(-90 752.5 1162)">P<tspan class="s" dy="3">i</tspan></text></g>
<g id="n4a-Pk"><circle cx="744" cy="1105" r="8.5"/><text class="tc" x="752.5" y="1091" transform="rotate(-90 752.5 1091)">P<tspan class="s" dy="3">k</tspan></text></g>
<g id="n4a-N"><circle cx="783" cy="1125" r="8.5"/><text class="tn" x="808.3" y="1127" transform="rotate(-90 808.3 1127)">N</text></g>
<g id="n4a-D"><circle cx="783" cy="1198" r="8.5"/><text class="td" x="810.3" y="1200" transform="rotate(-90 810.3 1200)">D</text></g>
<g id="n4b-X"><circle cx="683" cy="945" r="8.5"/><text class="tx" x="683" y="930" transform="rotate(-90 683 930)">X</text></g>
<g id="n4b-Pi"><circle cx="743" cy="965" r="8.5"/><text class="tc" x="751.5" y="980" transform="rotate(-90 751.5 980)">P<tspan class="s" dy="3">i</tspan></text></g>
<g id="n4b-Pk"><circle cx="743" cy="923" r="8.5"/><text class="tc" x="751.5" y="909" transform="rotate(-90 751.5 909)">P<tspan class="s" dy="3">k</tspan></text></g>
<g id="n4b-N"><circle cx="782" cy="944" r="8.5"/><text class="tn" x="807.3" y="946" transform="rotate(-90 807.3 946)">N</text></g>
<g id="n4b-D"><circle cx="782" cy="1015" r="8.5"/><text class="td" x="809.3" y="1017" transform="rotate(-90 809.3 1017)">D</text></g>
<g id="n4c-X"><circle cx="685" cy="757" r="8.5"/><text class="tx" x="683" y="742" transform="rotate(-90 683 742)">X</text></g>
<g id="n4c-Pi"><circle cx="745" cy="778" r="8.5"/><text class="tc" x="751.5" y="793" transform="rotate(-90 751.5 793)">P<tspan class="s" dy="3">i</tspan></text></g>
<g id="n4c-Pk"><circle cx="745" cy="737" r="8.5"/><text class="tc" x="752.5" y="721" transform="rotate(-90 752.5 721)">P<tspan class="s" dy="3">k</tspan></text></g>
<g id="n4c-N"><circle cx="783" cy="757" r="8.5"/><text class="tn" x="808.3" y="759" transform="rotate(-90 808.3 759)">N</text></g>
<g id="n4c-D"><circle cx="783" cy="828" r="8.5"/><text class="td" x="810.3" y="830" transform="rotate(-90 810.3 830)">D</text></g>
<g id="n4d-X"><circle cx="685" cy="580" r="8.5"/><text class="tx" x="683" y="566" transform="rotate(-90 683 566)">X</text></g>
<g id="n4d-Pi"><circle cx="744" cy="622" r="8.5"/><text class="tc" x="750.5" y="638" transform="rotate(-90 750.5 638)">P<tspan class="s" dy="3">i</tspan></text></g>
<g id="n4d-Pl"><circle cx="744" cy="577" r="8.5"/><text class="tc" x="750.5" y="594" transform="rotate(-90 750.5 594)">P<tspan class="s" dy="3">l</tspan></text></g>
<g id="n4d-Pk"><circle cx="743" cy="537" r="8.5"/><text class="tc" x="750.5" y="555" transform="rotate(-90 750.5 555)">P<tspan class="s" dy="3">k</tspan></text></g>
<g id="n4d-N"><circle cx="783" cy="580" r="8.5"/><text class="tn" x="808.3" y="582" transform="rotate(-90 808.3 582)">N</text></g>
<g id="n4d-D"><circle cx="783" cy="653" r="8.5"/><text class="td" x="810.3" y="655" transform="rotate(-90 810.3 655)">D</text></g>
<g id="n4e-X"><circle cx="684" cy="401" r="8.5"/><text class="tx" x="682" y="387" transform="rotate(-90 682 387)">X</text></g>
<g id="n4e-Pi"><circle cx="745" cy="443" r="8.5"/><text class="tc" x="750.5" y="460" transform="rotate(-90 750.5 460)">P<tspan class="s" dy="3">i</tspan></text></g>
<g id="n4e-Pl"><circle cx="745" cy="398" r="8.5"/><text class="tc" x="750.5" y="415" transform="rotate(-90 750.5 415)">P<tspan class="s" dy="3">l</tspan></text></g>
<g id="n4e-Pk"><circle cx="743" cy="356" r="8.5"/><text class="tc" x="750.5" y="373" transform="rotate(-90 750.5 373)">P<tspan class="s" dy="3">k</tspan></text></g>
<g id="n4e-N"><circle cx="783" cy="398" r="8.5"/><text class="tn" x="808.3" y="400" transform="rotate(-90 808.3 400)">N</text></g>
<g id="n4e-D"><circle cx="783" cy="470" r="8.5"/><text class="td" x="810.3" y="473" transform="rotate(-90 810.3 473)">D</text></g>
<g id="n4f-X"><circle cx="685" cy="218" r="8.5"/><text class="tx" x="683" y="203" transform="rotate(-90 683 203)">X</text></g>
<g id="n4f-Pi"><circle cx="745" cy="257" r="8.5"/><text class="tc" x="751.5" y="275" transform="rotate(-90 751.5 275)">P<tspan class="s" dy="3">i</tspan></text></g>
<g id="n4f-Pl"><circle cx="743" cy="215" r="8.5"/><text class="tc" x="750.5" y="232" transform="rotate(-90 750.5 232)">P<tspan class="s" dy="3">l</tspan></text></g>
<g id="n4f-Pk"><circle cx="745" cy="173" r="8.5"/><text class="tc" x="751.5" y="190" transform="rotate(-90 751.5 190)">P<tspan class="s" dy="3">k</tspan></text></g>
<g id="n4f-N"><circle cx="783" cy="218" r="8.5"/><text class="tn" x="808.3" y="220" transform="rotate(-90 808.3 220)">N</text></g>
<g id="n4f-D"><circle cx="783" cy="283" r="8.5"/><text class="td" x="810.3" y="287" transform="rotate(-90 810.3 287)">D</text></g>
<g id="n4g-X"><circle cx="685" cy="55" r="8.5"/><text class="tx" x="685" y="39" transform="rotate(-90 685 39)">X</text></g>
<g id="n4g-Pi"><circle cx="745" cy="95" r="8.5"/><text class="tc" x="751.5" y="113" transform="rotate(-90 751.5 113)">P<tspan class="s" dy="3">i</tspan></text></g>
<g id="n4g-Pl"><circle cx="745" cy="53" r="8.5"/><text class="tc" x="751.5" y="71" transform="rotate(-90 751.5 71)">P<tspan class="s" dy="3">l</tspan></text></g>
<g id="n4g-Pk"><circle cx="745" cy="13" r="8.5"/><text class="tc" x="751.5" y="30" transform="rotate(-90 751.5 30)">P<tspan class="s" dy="3">k</tspan></text></g>
<g id="n4g-N"><circle cx="783" cy="53" r="8.5"/><text class="tn" x="808.3" y="55" transform="rotate(-90 808.3 55)">N</text></g>
<g id="n4g-D"><circle cx="783" cy="122" r="8.5"/><text class="td" x="810.3" y="125" transform="rotate(-90 810.3 125)">D</text></g>
<!-- row 5 -->
<g id="n5a-Y"><circle cx="858" cy="1119" r="8.5"/><text class="tx" x="851" y="1131" transform="rotate(-90 851 1131)">Y</text></g>
<g id="n5a-X"><circle cx="891" cy="1119" r="8.5"/><text class="tx" x="884" y="1131" transform="rotate(-90 884 1131)">X</text></g>
<g id="n5a-Pi"><circle cx="961" cy="1119" r="8.5"/><text class="tc" x="954.5" y="1133" transform="rotate(-90 954.5 1133)">P<tspan class="s" dy="3">i</tspan></text></g>
<g id="n5a-N"><circle cx="998" cy="1119" r="8.5"/><text class="tn" x="1021.3" y="1121" transform="rotate(-90 1021.3 1121)">N</text></g>
<g id="n5a-D"><circle cx="998" cy="1187" r="8.5"/><text class="td" x="1024.3" y="1188" transform="rotate(-90 1024.3 1188)">D</text></g>
<g id="n5b-Y"><circle cx="859" cy="938" r="8.5"/><text class="tx" x="865" y="918" transform="rotate(-90 865 918)">Y</text></g>
<g id="n5b-X"><circle cx="892" cy="938" r="8.5"/><text class="tx" x="897" y="918" transform="rotate(-90 897 918)">X</text></g>
<g id="n5b-P1"><circle cx="957" cy="980" r="8.5"/><text class="tc" x="957.5" y="994" transform="rotate(-90 957.5 994)">P<tspan class="u" dy="3">1</tspan></text></g>
<g id="n5b-P2"><circle cx="957" cy="935" r="8.5"/><text class="tc" x="957.5" y="950" transform="rotate(-90 957.5 950)">P<tspan class="u" dy="3">2</tspan></text></g>
<g id="n5b-P3"><circle cx="956" cy="890" r="8.5"/><text class="tc" x="957.5" y="908" transform="rotate(-90 957.5 908)">P<tspan class="u" dy="3">3</tspan></text></g>
<g id="n5b-N"><circle cx="998" cy="937" r="8.5"/><text class="tn" x="1020.3" y="940" transform="rotate(-90 1020.3 940)">N</text></g>
<g id="n5b-D"><circle cx="998" cy="1012" r="8.5"/><text class="td" x="1023.3" y="1015" transform="rotate(-90 1023.3 1015)">D</text></g>
<g id="n5c-Y"><circle cx="858" cy="744" r="8.5"/><text class="tx" x="863" y="723" transform="rotate(-90 863 723)">Y</text></g>
<g id="n5c-X"><circle cx="891" cy="744" r="8.5"/><text class="tx" x="897" y="721" transform="rotate(-90 897 721)">X</text></g>
<g id="n5c-P1"><circle cx="956" cy="787" r="8.5"/><text class="tc" x="957.5" y="800" transform="rotate(-90 957.5 800)">P<tspan class="u" dy="3">1</tspan></text></g>
<g id="n5c-P2"><circle cx="956" cy="742" r="8.5"/><text class="tc" x="957.5" y="757" transform="rotate(-90 957.5 757)">P<tspan class="u" dy="3">2</tspan></text></g>
<g id="n5c-P3"><circle cx="956" cy="697" r="8.5"/><text class="tc" x="957.5" y="715" transform="rotate(-90 957.5 715)">P<tspan class="u" dy="3">3</tspan></text></g>
<g id="n5c-N"><circle cx="998" cy="743" r="8.5"/><text class="tn" x="1020.3" y="746" transform="rotate(-90 1020.3 746)">N</text></g>
<g id="n5c-D"><circle cx="998" cy="818" r="8.5"/><text class="td" x="1023.3" y="822" transform="rotate(-90 1023.3 822)">D</text></g>
<g id="n5d-Z"><circle cx="851" cy="543" r="8.5"/><text class="tx" x="844" y="555" transform="rotate(-90 844 555)">Z</text></g>
<g id="n5d-Y"><circle cx="884" cy="543" r="8.5"/><text class="tx" x="877" y="555" transform="rotate(-90 877 555)">Y</text></g>
<g id="n5d-X"><circle cx="916" cy="543" r="8.5"/><text class="tx" x="909" y="555" transform="rotate(-90 909 555)">X</text></g>
<g id="n5d-Pi"><circle cx="979" cy="543" r="8.5"/><text class="tc" x="975.5" y="557" transform="rotate(-90 975.5 557)">P<tspan class="s" dy="3">i</tspan></text></g>
<g id="n5d-N"><circle cx="1010" cy="543" r="8.5"/><text class="tn" x="1029.3" y="546" transform="rotate(-90 1029.3 546)">N</text></g>
<g id="n5d-D"><circle cx="1010" cy="609" r="8.5"/><text class="td" x="1032.3" y="611" transform="rotate(-90 1032.3 611)">D</text></g>
</g>

<g id="axis-labels">
<text class="big" x="40" y="1140" transform="rotate(-90 40 1140)">a</text>
<text class="big" x="40" y="968" transform="rotate(-90 40 968)">b</text>
<text class="big" x="40" y="800" transform="rotate(-90 40 800)">c</text>
<text class="big" x="40" y="592" transform="rotate(-90 40 592)">d</text>
<text class="big" x="40" y="390" transform="rotate(-90 40 390)">e</text>
<text class="big" x="40" y="215" transform="rotate(-90 40 215)">f</text>
<text class="big" x="40" y="30" transform="rotate(-90 40 30)">g</text>
<text class="dig" x="158" y="1245" transform="rotate(-90 158 1245)">1</text>
<text class="dig" x="345" y="1245" transform="rotate(-90 345 1245)">2</text>
<text class="dig" x="532" y="1245" transform="rotate(-90 532 1245)">3</text>
<text class="dig" x="737" y="1245" transform="rotate(-90 737 1245)">4</text>
<text class="dig" x="945" y="1245" transform="rotate(-90 945 1245)">5</text>
</g>
</svg>
